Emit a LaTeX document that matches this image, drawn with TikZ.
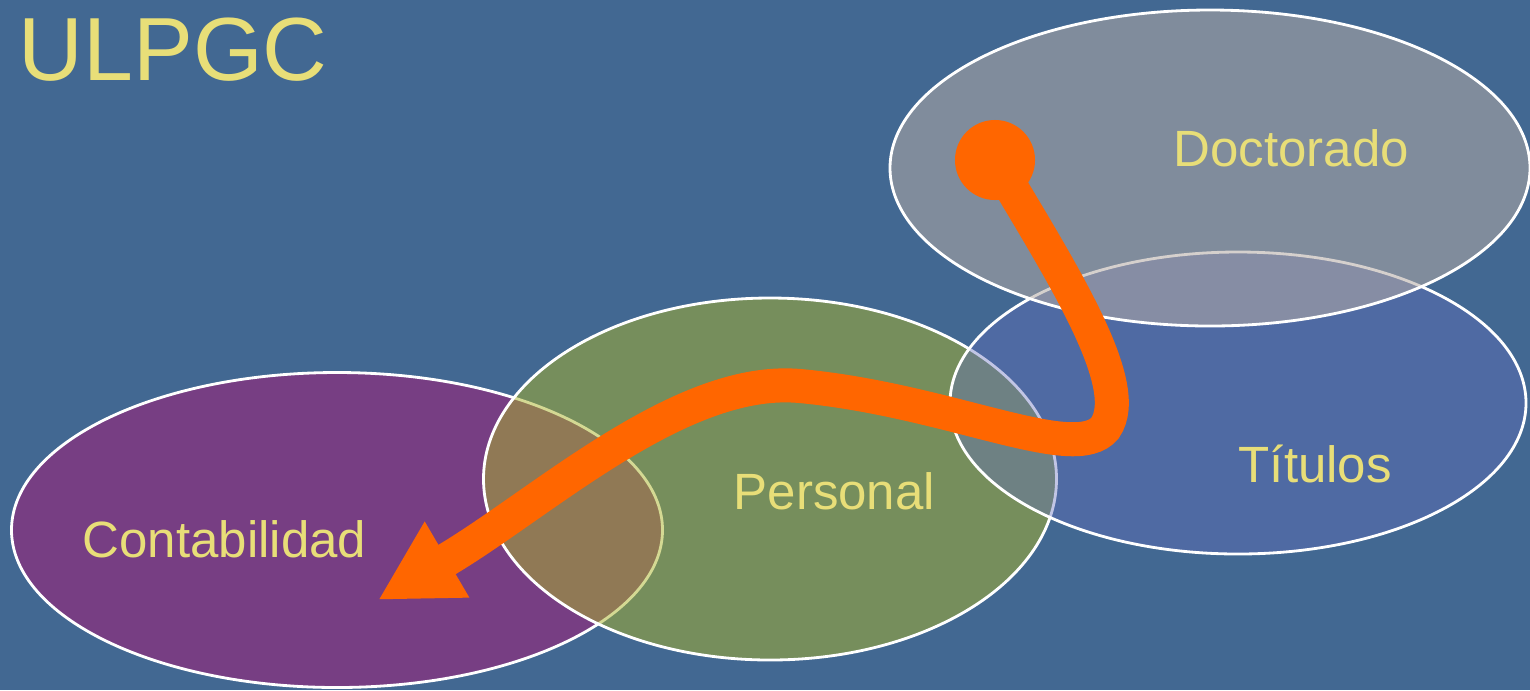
\documentclass[tikz,border=0pt]{standalone}
\usepackage{fontspec}
\setmainfont{Liberation Sans}
\usetikzlibrary{shapes.geometric,arrows.meta}

\definecolor{fondo}{RGB}{66,104,146}
\definecolor{amarillo}{RGB}{232,222,120}
\definecolor{naranja}{RGB}{255,102,0}
\definecolor{conta}{RGB}{200,0,110}
\definecolor{perso}{RGB}{170,180,40}
\definecolor{titu}{RGB}{100,110,190}
\definecolor{docto}{RGB}{180,170,165}

\begin{document}
\begin{tikzpicture}[x=0.01cm, y=-0.01cm]
        \tikzstyle{zona}=[ellipse, draw=white, line width=0.8pt, inner sep=0];
        \tikzstyle{rotulo}=[anchor=base west, inner sep=0, text=amarillo, font=\fontsize{14.5}{17}\selectfont];

        \fill[fondo] (0,0) rectangle (1530,690);
        \useasboundingbox (0,0) rectangle (1530,690);

        \foreach \n/\x/\y/\w/\h/\o in {conta/337/530/651/315/0.4, perso/770/479/573/362/0.5,
                                        titu/1238/403/576/302/0.4, docto/1210/168/640/316/0.55}{
          \node[zona, fill=\n, fill opacity=\o, minimum width=\w*0.01cm, minimum height=\h*0.01cm] (\n) at (\x,\y) {};
        }

        \node[anchor=base west, inner sep=0, text=amarillo, font=\fontsize{25.5}{30}\selectfont] (ulpgc) at (18,80) {ULPGC};
        \node[rotulo] (docto-t) at (1173,166) {Doctorado};
        \node[rotulo] (titu-t) at (1238,482) {Títulos};
        \node[rotulo] (perso-t) at (733,509) {Personal};
        \node[rotulo] (conta-t) at (82,557) {Contabilidad};

        \node[circle, fill=naranja, minimum size=0.8cm, inner sep=0] (punto) at (995,160) {};
        \coordinate (punta) at (378,600);
        \draw[naranja, line width=0.34cm, -{Triangle[length=0.8cm, width=0.82cm]}] (punto.center)
          .. controls (1060,270) and (1135,385) .. (1105,428)
          .. controls (1075,465) and (950,400) .. (800,386)
          .. controls (680,375) and (540,505) .. (punta);
\end{tikzpicture}
\end{document}
